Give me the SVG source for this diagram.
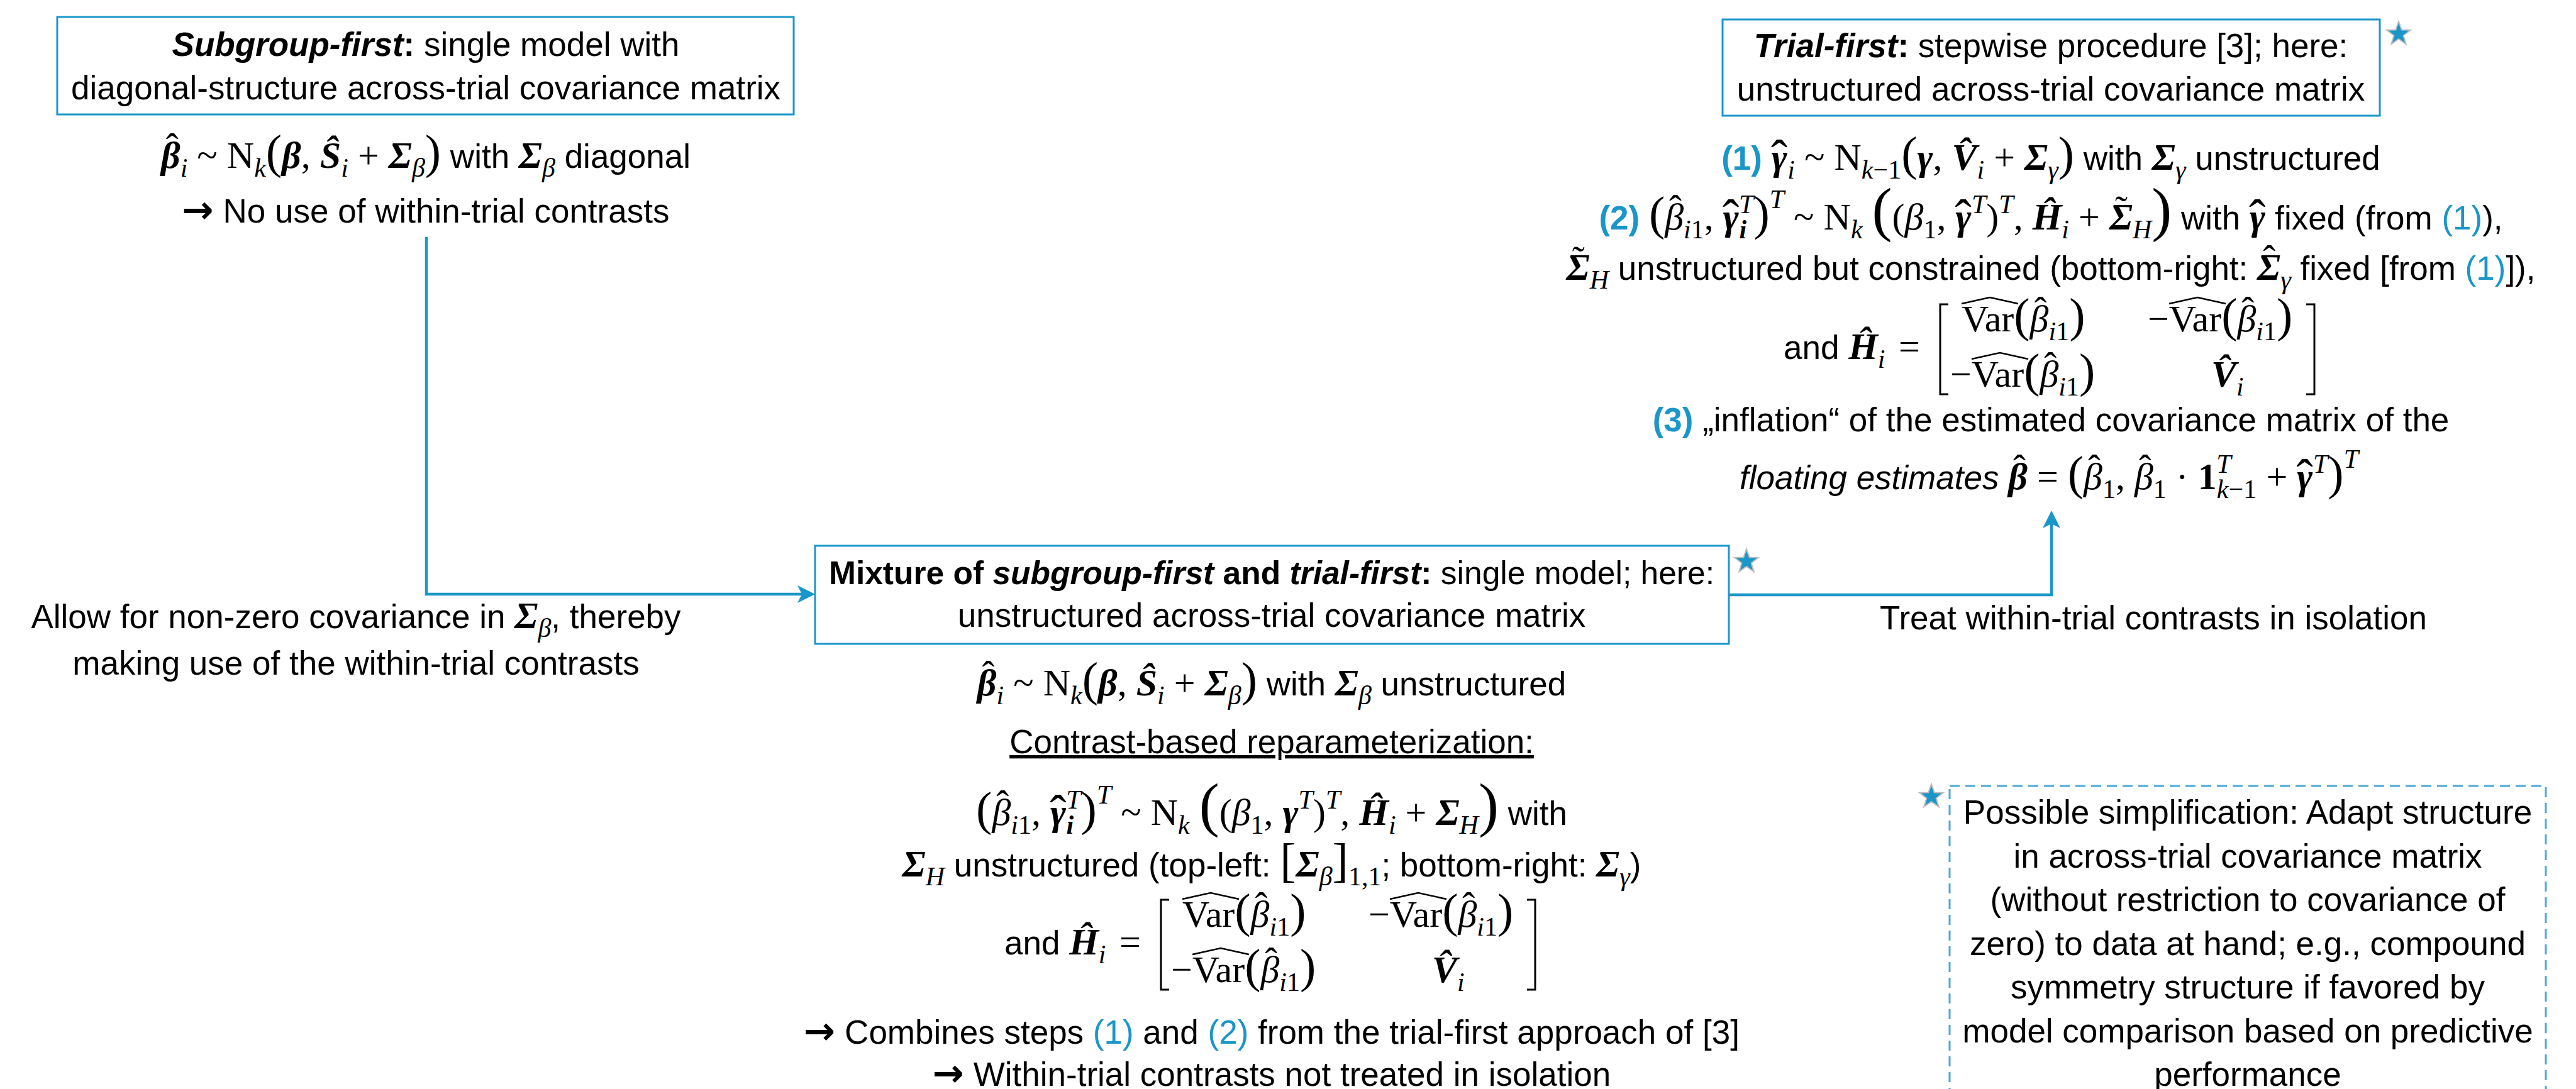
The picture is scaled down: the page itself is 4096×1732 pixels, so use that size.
<svg xmlns="http://www.w3.org/2000/svg" width="4096" height="1732" viewBox="0 0 4096 1732">
<style>
.tx{font-family:"Liberation Sans",Arial,sans-serif;font-size:53px;fill:#000}
.c{text-anchor:middle}
.b{font-weight:bold}
.i{font-style:italic}
.m{font-family:"Liberation Serif","Times New Roman",serif;font-size:60px;font-style:normal;font-weight:normal}
.mi{font-family:"Liberation Serif","Times New Roman",serif;font-size:60px;font-style:italic;font-weight:normal}
.mb{font-family:"Liberation Serif","Times New Roman",serif;font-size:60px;font-style:italic;font-weight:bold}
.mbu{font-family:"Liberation Serif","Times New Roman",serif;font-size:60px;font-style:normal;font-weight:bold}
.s{font-size:42px}
.h{font-size:80px}
.p{font-size:76px}
.P{font-size:96px}
.ar{font-family:"DejaVu Sans",sans-serif;font-weight:bold;font-size:60px}
.blue{fill:#1a96c8}
.box{fill:#fff;stroke:#1a96c8;stroke-width:3}
.dash{fill:none;stroke:#4aa9d6;stroke-width:3;stroke-dasharray:16 9}
.conn{fill:none;stroke:#1a96c8;stroke-width:4.5}
.br{fill:none;stroke:#000;stroke-width:3}
.hat{fill:none;stroke:#000;stroke-width:2.5}
.star{fill:#1a96c8;stroke:#bdbdbd;stroke-width:2}
</style>
<defs>
<marker id="ah" markerUnits="userSpaceOnUse" markerWidth="28" markerHeight="28" viewBox="0 0 28 28" refX="21" refY="14" orient="auto"><path d="M0,0 L28,14 L0,28 L7,14 Z" fill="#1a96c8"/></marker>
<path id="star" class="star" d="M0,-20 L4.7,-6.5 L19,-6.2 L7.6,2.5 L11.8,16.2 L0,8 L-11.8,16.2 L-7.6,2.5 L-19,-6.2 L-4.7,-6.5 Z"/>
<g id="matrix">
<text class="tx" x="1597" y="1518">and <tspan class="mb">Ĥ</tspan><tspan class="mi s" dy="14">i</tspan><tspan class="m" x="1780" dy="-14">=</tspan></text>
<path class="br" d="M1859,1431 H1846 V1574 H1859"/>
<path class="br" d="M2428,1431 H2441 V1574 H2428"/>
<text class="tx" x="1880" y="1474"><tspan class="m">Var</tspan><tspan class="m p">(</tspan><tspan class="mi">β</tspan><tspan class="m" dx="-23" dy="-14">ˆ</tspan><tspan class="mi s" dx="3" dy="28">i</tspan><tspan class="m s">1</tspan><tspan class="m p" dy="-14">)</tspan></text>
<path class="hat" d="M1880,1430 L1925,1420 L1970,1430"/>
<text class="tx" x="2176" y="1474"><tspan class="m">−Var</tspan><tspan class="m p">(</tspan><tspan class="mi">β</tspan><tspan class="m" dx="-23" dy="-14">ˆ</tspan><tspan class="mi s" dx="3" dy="28">i</tspan><tspan class="m s">1</tspan><tspan class="m p" dy="-14">)</tspan></text>
<path class="hat" d="M2210,1430 L2255,1420 L2300,1430"/>
<text class="tx" x="1862" y="1562"><tspan class="m">−Var</tspan><tspan class="m p">(</tspan><tspan class="mi">β</tspan><tspan class="m" dx="-23" dy="-14">ˆ</tspan><tspan class="mi s" dx="3" dy="28">i</tspan><tspan class="m s">1</tspan><tspan class="m p" dy="-14">)</tspan></text>
<path class="hat" d="M1896,1518 L1941,1508 L1986,1518"/>
<text class="tx" x="2277" y="1562"><tspan class="mb">V̂</tspan><tspan class="mi s" dy="14">i</tspan></text>
</g>
</defs>

<g id="connectors">
<path class="conn" d="M678,377 V945 H1289" marker-end="url(#ah)"/>
<path class="conn" d="M2749,946 H3262 V819" marker-end="url(#ah)"/>
</g>

<g id="edge-labels">
<text class="tx c" x="566" y="999">Allow for non-zero covariance in <tspan class="mb">Σ</tspan><tspan class="mi s" dy="14">β</tspan><tspan dy="-14">, thereby</tspan></text>
<text class="tx c" x="566" y="1073">making use of the within-trial contrasts</text>
<text class="tx c" x="3424" y="1001">Treat within-trial contrasts in isolation</text>
</g>

<g id="subgroup-first">
<rect class="box" x="91" y="27" width="1171" height="155"/>
<text class="tx c" x="677" y="89"><tspan class="b i">Subgroup-first</tspan><tspan class="b">:</tspan> single model with</text>
<text class="tx c" x="677" y="158">diagonal-structure across-trial covariance matrix</text>
<text class="tx c" x="677" y="267"><tspan class="mb">β</tspan><tspan class="m" dx="-23" dy="-14">ˆ</tspan><tspan class="mi s" dx="3" dy="28">i</tspan><tspan class="m" dy="-14"> ~ N</tspan><tspan class="mi s" dy="14">k</tspan><tspan class="m p" dy="-14">(</tspan><tspan class="mb">β</tspan><tspan class="m">, </tspan><tspan class="mb">Ŝ</tspan><tspan class="mi s" dy="14">i</tspan><tspan class="m" dy="-14"> + </tspan><tspan class="mb">Σ</tspan><tspan class="mi s" dy="14">β</tspan><tspan class="m p" dy="-14">)</tspan><tspan> with </tspan><tspan class="mb">Σ</tspan><tspan class="mi s" dy="14">β</tspan><tspan dy="-14"> diagonal</tspan></text>
<text class="tx c" x="677" y="354"><tspan class="ar">→</tspan> No use of within-trial contrasts</text>
</g>

<g id="trial-first">
<rect class="box" x="2739" y="31" width="1045" height="153"/>
<use href="#star" x="3814" y="54"/>
<text class="tx c" x="3261" y="91"><tspan class="b i">Trial-first</tspan><tspan class="b">:</tspan> stepwise procedure [3]; here:</text>
<text class="tx c" x="3261" y="160">unstructured across-trial covariance matrix</text>
<text class="tx c" x="3261" y="270"><tspan class="b blue">(1)</tspan> <tspan class="mb">γ</tspan><tspan class="m h" dx="-26" dy="8">ˆ</tspan><tspan class="mi s" dy="6">i</tspan><tspan class="m" dy="-14"> ~ N</tspan><tspan class="mi s" dy="14">k</tspan><tspan class="m s">−1</tspan><tspan class="m p" dy="-14">(</tspan><tspan class="mb">γ</tspan><tspan class="m">, </tspan><tspan class="mb">V̂</tspan><tspan class="mi s" dy="14">i</tspan><tspan class="m" dy="-14"> + </tspan><tspan class="mb">Σ</tspan><tspan class="mi s" dy="14">γ</tspan><tspan class="m p" dy="-14">)</tspan><tspan> with </tspan><tspan class="mb">Σ</tspan><tspan class="mi s" dy="14">γ</tspan><tspan dy="-14"> unstructured</tspan></text>
<text class="tx c" x="3261" y="365"><tspan class="b blue">(2) </tspan><tspan class="m p">(</tspan><tspan class="mi">β</tspan><tspan class="m" dx="-23" dy="-14">ˆ</tspan><tspan class="mi s" dx="3" dy="28">i</tspan><tspan class="m s">1</tspan><tspan class="m" dy="-14">, </tspan><tspan class="mb">γ</tspan><tspan class="m h" dx="-26" dy="8">ˆ</tspan><tspan class="mb s" dy="6">i</tspan><tspan class="mi s" dx="-12" dy="-40">T</tspan><tspan class="m p" dy="26">)</tspan><tspan class="mi s" dy="-34">T</tspan><tspan class="m" dy="34"> ~ N</tspan><tspan class="mi s" dy="14">k</tspan><tspan class="m" dy="-14"> </tspan><tspan class="m P">(</tspan><tspan class="m">(</tspan><tspan class="mi">β</tspan><tspan class="m s" dy="14">1</tspan><tspan class="m" dy="-14">, </tspan><tspan class="mb">γ</tspan><tspan class="m h" dx="-26" dy="8">ˆ</tspan><tspan class="mi s" dy="-34">T</tspan><tspan class="m" dy="26">)</tspan><tspan class="mi s" dy="-26">T</tspan><tspan class="m" dy="26">, </tspan><tspan class="mb">Ĥ</tspan><tspan class="mi s" dy="14">i</tspan><tspan class="m" dy="-14"> + </tspan><tspan class="mb">Σ</tspan><tspan class="m" dx="-28" dy="-13">˜</tspan><tspan class="mi s" dx="8" dy="27">H</tspan><tspan class="m P" dy="-14">)</tspan><tspan> with </tspan><tspan class="mb">γ</tspan><tspan class="m h" dx="-26" dy="8">ˆ</tspan><tspan dy="-8"> fixed (from </tspan><tspan class="blue">(1)</tspan><tspan>),</tspan></text>
<text class="tx c" x="3261" y="445"><tspan class="mb">Σ</tspan><tspan class="m" dx="-28" dy="-13">˜</tspan><tspan class="mi s" dx="8" dy="27">H</tspan><tspan dy="-14"> unstructured but constrained (bottom-right: </tspan><tspan class="mb">Σ</tspan><tspan class="m" dx="-28" dy="-14">ˆ</tspan><tspan class="mi s" dx="8" dy="28">γ</tspan><tspan dy="-14"> fixed [from </tspan><tspan class="blue">(1)</tspan><tspan>]),</tspan></text>
<use href="#matrix" transform="translate(1239,-947)"/>
<text class="tx c" x="3261" y="686"><tspan class="b blue">(3)</tspan> „inflation“ of the estimated covariance matrix of the</text>
<text class="tx c" x="3258" y="778"><tspan class="i">floating estimates </tspan><tspan class="mb">β</tspan><tspan class="m" dx="-23" dy="-14">ˆ</tspan><tspan class="m" dx="3" dy="14"> = </tspan><tspan class="m p">(</tspan><tspan class="mi">β</tspan><tspan class="m" dx="-23" dy="-14">ˆ</tspan><tspan class="m s" dx="3" dy="28">1</tspan><tspan class="m" dy="-14">, </tspan><tspan class="mi">β</tspan><tspan class="m" dx="-23" dy="-14">ˆ</tspan><tspan class="m s" dx="3" dy="28">1</tspan><tspan class="m" dy="-14"> · </tspan><tspan class="mbu">1</tspan><tspan class="mi s" dy="14">k</tspan><tspan class="m s">−1</tspan><tspan class="mi s" dx="-64" dy="-40">T</tspan><tspan class="m" dx="41" dy="26"> + </tspan><tspan class="mb">γ</tspan><tspan class="m h" dx="-26" dy="8">ˆ</tspan><tspan class="mi s" dy="-34">T</tspan><tspan class="m p" dy="26">)</tspan><tspan class="mi s" dy="-34">T</tspan></text>
</g>

<g id="mixture">
<rect class="box" x="1296" y="868" width="1453" height="156"/>
<use href="#star" x="2777" y="893"/>
<text class="tx c" x="2022" y="929" style="font-size:51.5px"><tspan class="b">Mixture of </tspan><tspan class="b i">subgroup-first</tspan><tspan class="b"> and </tspan><tspan class="b i">trial-first</tspan><tspan class="b">:</tspan> single model; here:</text>
<text class="tx c" x="2022" y="997">unstructured across-trial covariance matrix</text>
<text class="tx c" x="2022" y="1106"><tspan class="mb">β</tspan><tspan class="m" dx="-23" dy="-14">ˆ</tspan><tspan class="mi s" dx="3" dy="28">i</tspan><tspan class="m" dy="-14"> ~ N</tspan><tspan class="mi s" dy="14">k</tspan><tspan class="m p" dy="-14">(</tspan><tspan class="mb">β</tspan><tspan class="m">, </tspan><tspan class="mb">Ŝ</tspan><tspan class="mi s" dy="14">i</tspan><tspan class="m" dy="-14"> + </tspan><tspan class="mb">Σ</tspan><tspan class="mi s" dy="14">β</tspan><tspan class="m p" dy="-14">)</tspan><tspan> with </tspan><tspan class="mb">Σ</tspan><tspan class="mi s" dy="14">β</tspan><tspan dy="-14"> unstructured</tspan></text>
<text class="tx c" x="2022" y="1198" text-decoration="underline">Contrast-based reparameterization:</text>
<text class="tx c" x="2022" y="1312"><tspan class="m p">(</tspan><tspan class="mi">β</tspan><tspan class="m" dx="-23" dy="-14">ˆ</tspan><tspan class="mi s" dx="3" dy="28">i</tspan><tspan class="m s">1</tspan><tspan class="m" dy="-14">, </tspan><tspan class="mb">γ</tspan><tspan class="m h" dx="-26" dy="8">ˆ</tspan><tspan class="mb s" dy="6">i</tspan><tspan class="mi s" dx="-12" dy="-40">T</tspan><tspan class="m p" dy="26">)</tspan><tspan class="mi s" dy="-34">T</tspan><tspan class="m" dy="34"> ~ N</tspan><tspan class="mi s" dy="14">k</tspan><tspan class="m" dy="-14"> </tspan><tspan class="m P">(</tspan><tspan class="m">(</tspan><tspan class="mi">β</tspan><tspan class="m s" dy="14">1</tspan><tspan class="m" dy="-14">, </tspan><tspan class="mb">γ</tspan><tspan class="mi s" dy="-26">T</tspan><tspan class="m" dy="26">)</tspan><tspan class="mi s" dy="-26">T</tspan><tspan class="m" dy="26">, </tspan><tspan class="mb">Ĥ</tspan><tspan class="mi s" dy="14">i</tspan><tspan class="m" dy="-14"> + </tspan><tspan class="mb">Σ</tspan><tspan class="mi s" dy="14">H</tspan><tspan class="m P" dy="-14">)</tspan><tspan> with</tspan></text>
<text class="tx c" x="2022" y="1394"><tspan class="mb">Σ</tspan><tspan class="mi s" dy="14">H</tspan><tspan dy="-14"> unstructured (top-left: </tspan><tspan class="m p">[</tspan><tspan class="mb">Σ</tspan><tspan class="mi s" dy="14">β</tspan><tspan class="m p" dy="-14">]</tspan><tspan class="m s" dy="14">1,1</tspan><tspan dy="-14">; bottom-right: </tspan><tspan class="mb">Σ</tspan><tspan class="mi s" dy="14">γ</tspan><tspan dy="-14">)</tspan></text>
<use href="#matrix"/>
<text class="tx c" x="2022" y="1660"><tspan class="ar">→</tspan> Combines steps <tspan class="blue">(1)</tspan> and <tspan class="blue">(2)</tspan> from the trial-first approach of [3]</text>
<text class="tx c" x="2022" y="1727"><tspan class="ar">→</tspan> Within-trial contrasts not treated in isolation</text>
</g>

<g id="note">
<rect class="dash" x="3100" y="1250" width="948" height="600"/>
<use href="#star" x="3071" y="1267"/>
<text class="tx c" x="3574" y="1310">Possible simplification: Adapt structure</text>
<text class="tx c" x="3574" y="1380">in across-trial covariance matrix</text>
<text class="tx c" x="3574" y="1449">(without restriction to covariance of</text>
<text class="tx c" x="3574" y="1519">zero) to data at hand; e.g., compound</text>
<text class="tx c" x="3574" y="1588">symmetry structure if favored by</text>
<text class="tx c" x="3574" y="1658">model comparison based on predictive</text>
<text class="tx c" x="3574" y="1727">performance</text>
</g>
</svg>
